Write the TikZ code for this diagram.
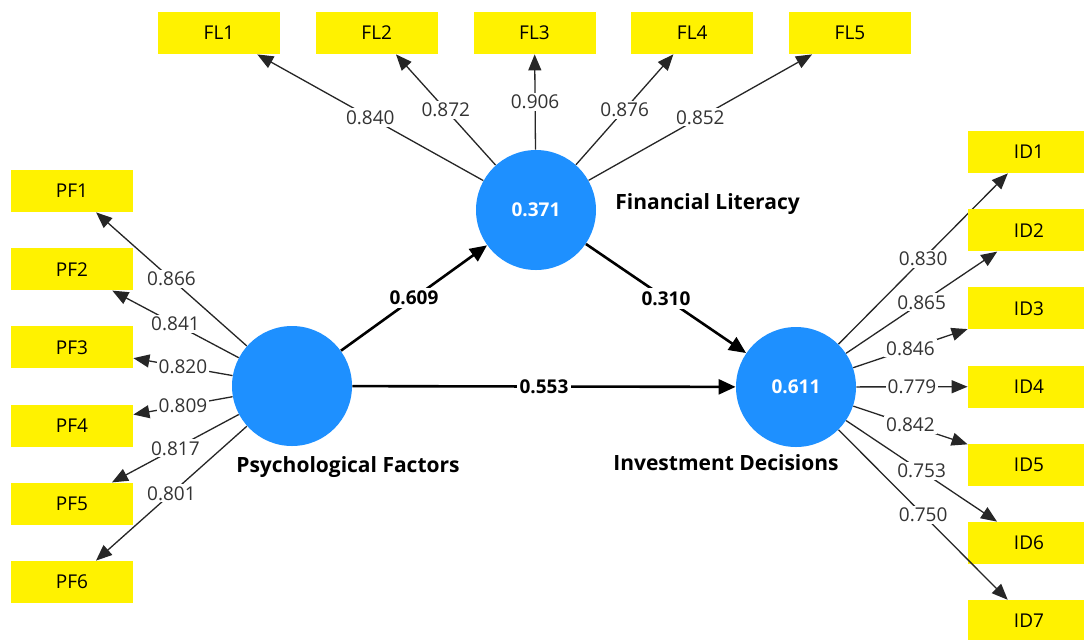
\documentclass[tikz,border=0pt]{standalone}
\usepackage{fontspec}
\setmainfont{Open Sans}
\usetikzlibrary{arrows.meta,positioning}
\definecolor{indyellow}{RGB}{255,242,0}
\definecolor{latblue}{RGB}{30,144,255}

\begin{document}
\begin{tikzpicture}[x=0.5pt, y=-0.5pt,
  every node/.style = {font=\fontsize{9.5}{11}\selectfont},
  item/.style = {fill=indyellow, minimum width=61pt, minimum height=21pt,
    inner sep=0pt},
  latent/.style = {circle, fill=latblue, minimum size=60pt, inner sep=0pt,
    text=white, font=\fontsize{9.5}{11}\selectfont\bfseries},
  latname/.style = {font=\fontsize{10.5}{12}\selectfont\bfseries},
  loading/.style = {draw=black!85, line width=0.65pt,
    -{Triangle[length=8pt,width=6.5pt]}},
  coef/.style = {fill=white, inner sep=1pt, text=black!80},
  pathline/.style = {draw=black, line width=1.3pt,
    -{Triangle[length=8.5pt,width=7.5pt]}},
  pathcoef/.style = {fill=white, inner sep=1.5pt,
    font=\fontsize{9.5}{11}\selectfont\bfseries}]

  \path[fill=white] (0,0) rectangle (1084,639);
  \useasboundingbox (0,0) rectangle (1084,639);

  \node[latent] (pf) at (292,386) {};
  \node[latent] (fl) at (536,210) {0.371};
  \node[latent] (id) at (796,387) {0.611};

  \node[latname] (pfname) at (348,467) {Psychological Factors};
  \node[latname, right=6pt of fl, yshift=3pt] (flname) {Financial Literacy};
  \node[latname] (idname) at (726,463) {Investment Decisions};

  \foreach \v [count=\i] in {0.866,0.841,0.820,0.809,0.817,0.801} {
    \node[item] (pf\i) at (72,{191+78.2*(\i-1)}) {PF\i};
    \draw[loading] (pf) -- node[coef] {\v} (pf\i);
  }
  \foreach \v [count=\i] in {0.840,0.872,0.906,0.876,0.852} {
    \node[item] (fl\i) at ({219+157.75*(\i-1)},33) {FL\i};
    \draw[loading] (fl) -- node[coef] {\v} (fl\i);
  }
  \foreach \v [count=\i] in {0.830,0.865,0.846,0.779,0.842,0.753,0.750} {
    \node[item] (id\i) at (1029,{152+78.2*(\i-1)}) {ID\i};
    \draw[loading] (id) -- node[coef] {\v} (id\i);
  }

  \draw[pathline] (pf) -- node[pathcoef] {0.609} (fl);
  \draw[pathline] (fl) -- node[pathcoef] {0.310} (id);
  \draw[pathline] (pf) -- node[pathcoef] {0.553} (id);
\end{tikzpicture}
\end{document}
